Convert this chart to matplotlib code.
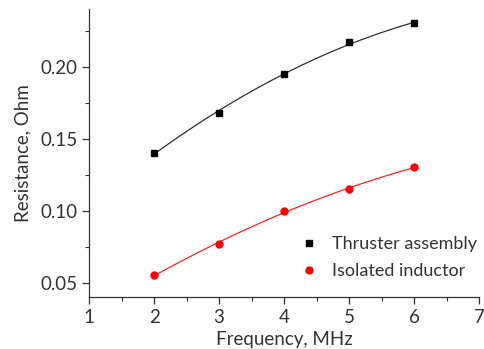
import numpy as np
import matplotlib
matplotlib.use("Agg")
import matplotlib.pyplot as plt
import matplotlib.ticker as mticker

# ── data ──
freq_mhz = [2, 3, 4, 5, 6]
thruster = [0.140, 0.168, 0.195, 0.217, 0.230]
inductor = [0.055, 0.077, 0.100, 0.115, 0.130]

plt.rcParams["font.family"] = ["Lato", "DejaVu Sans"]
FS = 13.5

fig = plt.figure(figsize=(4.84, 3.49), dpi=100)
ax = fig.add_axes([0.184, 0.149, 0.806, 0.825])

# smooth fit curves through each series
xs = np.linspace(min(freq_mhz), max(freq_mhz), 200)
for ys, col in [(thruster, "#303030"), (inductor, "#ff2020")]:
    coef = np.polyfit(freq_mhz, ys, 2)
    ax.plot(xs, np.polyval(coef, xs), color=col, lw=0.9, zorder=2)

ax.plot(freq_mhz, thruster, ls="none", marker="s", ms=4.5, color="black",
        label="Thruster assembly", zorder=3)
ax.plot(freq_mhz, inductor, ls="none", marker="o", ms=5, color="red",
        label="Isolated inductor", zorder=3)

ax.set_xlim(1, 7)
ax.set_ylim(0.04, 0.24)
ax.xaxis.set_major_locator(mticker.MultipleLocator(1))
ax.xaxis.set_minor_locator(mticker.MultipleLocator(0.5))
ax.yaxis.set_major_locator(mticker.FixedLocator([0.05, 0.10, 0.15, 0.20]))
ax.yaxis.set_minor_locator(mticker.MultipleLocator(0.025))
ax.yaxis.set_major_formatter(mticker.FormatStrFormatter("%.2f"))

for s in ["top", "right"]:
    ax.spines[s].set_visible(False)
for s in ["left", "bottom"]:
    ax.spines[s].set_linewidth(0.9)
    ax.spines[s].set_color("#333333")
ax.tick_params(which="major", length=5, width=0.9, color="#333333",
               labelsize=FS, labelcolor="#333333")
ax.tick_params(which="minor", length=3, width=0.8, color="#333333")

ax.set_xlabel("Frequency, MHz", fontsize=FS, labelpad=4, color="#333333")
ax.set_ylabel("Resistance, Ohm", fontsize=FS, labelpad=6, color="#333333")

ax.legend(loc="lower right", frameon=False, fontsize=13, handletextpad=0.5,
          handlelength=1.6, borderaxespad=0.0, borderpad=0.2, labelspacing=0.6,
          bbox_to_anchor=(1.005, 0.05), labelcolor="#333333")

fig.savefig("out.png", dpi=100)
